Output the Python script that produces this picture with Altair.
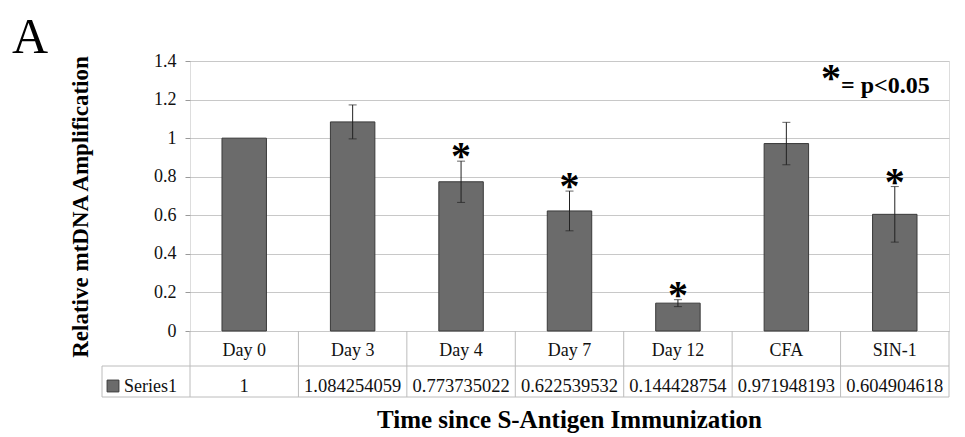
import altair as alt
import pandas as pd

categories = ["Day 0", "Day 3", "Day 4", "Day 7", "Day 12", "CFA", "SIN-1"]
values = [1, 1.084254059, 0.773735022, 0.622539532, 0.144428754, 0.971948193, 0.604904618]
value_labels = ["1", "1.084254059", "0.773735022", "0.622539532", "0.144428754", "0.971948193", "0.604904618"]
errors = [0, 0.088, 0.107, 0.103, 0.018, 0.110, 0.144]
significant = [False, False, True, True, True, False, True]
series_name = ["Series1"]
y_title = ["Relative mtDNA Amplification"]
x_title = ["Time since S-Antigen Immunization"]
panel_label = ["A"]
star = "*"
legend_text = ["= p<0.05"]
y_ticks = [0, 0.2, 0.4, 0.6, 0.8, 1.0, 1.2, 1.4]

df = pd.DataFrame({"cat": categories, "val": values, "label": value_labels,
                   "err": errors, "sig": significant})
df["lo"] = df["val"] - df["err"]
df["hi"] = df["val"] + df["err"]
err_df = df[df["err"] > 0]
sig_df = df[df["sig"]]
one = pd.DataFrame({"k": [0]})

W, H = 759, 270
FONT = "Liberation Serif"
BAR = "#6b6b6b"
LINE = "#bcbcbc"

xs = alt.Scale(paddingInner=0, paddingOuter=0)
X = alt.X("cat:N", sort=categories, scale=xs, axis=None)
ys = alt.Scale(domain=[0, 1.4])
yaxis = alt.Axis(values=y_ticks, format="~g", title=None, tickSize=5, labelPadding=9,
                 domain=False, labelFont=FONT, labelFontSize=18, labelColor="#111",
                 gridColor="#c8c8c8", tickColor="#999", labelOverlap=False)


def Yq(field):
    return alt.Y(field, type="quantitative", scale=ys, axis=yaxis)


bars = alt.Chart(df).mark_bar(color=BAR, stroke="#3a3a3a", strokeWidth=1,
                              width=alt.RelativeBandSize(0.41)).encode(x=X, y=Yq("val"))

ebar = alt.Chart(err_df).mark_rule(color="#222", strokeWidth=1).encode(
    x=X, y=Yq("lo"), y2="hi:Q")
cap_hi = alt.Chart(err_df).mark_tick(color="#222", thickness=1, size=8).encode(
    x=X, y=Yq("hi"))
cap_lo = alt.Chart(err_df).mark_tick(color="#222", thickness=1, size=8).encode(
    x=X, y=Yq("lo"))

stars = alt.Chart(sig_df).mark_text(text=star, font=FONT, fontWeight="bold", fontSize=40,
                                    baseline="alphabetic", dy=8, color="#000").encode(
    x=X, y=Yq("hi"))

# data table under the plot
vlines = alt.Chart(df).mark_rule(color=LINE, strokeWidth=1).encode(
    x=alt.X("cat:N", sort=categories, scale=xs, axis=None, bandPosition=0),
    y=alt.value(H), y2=alt.value(336))
rline = alt.Chart(one).mark_rule(color=LINE).encode(x=alt.value(W), y=alt.value(H), y2=alt.value(336))
lline = alt.Chart(one).mark_rule(color=LINE).encode(x=alt.value(-88), y=alt.value(305), y2=alt.value(336))
h1 = alt.Chart(one).mark_rule(color=LINE).encode(x=alt.value(-88), x2=alt.value(W), y=alt.value(305))
h2 = alt.Chart(one).mark_rule(color=LINE).encode(x=alt.value(-88), x2=alt.value(W), y=alt.value(336))

cat_txt = alt.Chart(df).mark_text(font=FONT, fontSize=18, baseline="alphabetic", color="#111").encode(
    x=X, y=alt.value(295), text="cat:N")
val_txt = alt.Chart(df).mark_text(font=FONT, fontSize=18.5, baseline="alphabetic", color="#111").encode(
    x=X, y=alt.value(331), text="label:N")

swatch = alt.Chart(one).mark_square(size=140, color=BAR, stroke="#3a3a3a", strokeWidth=1, opacity=1).encode(
    x=alt.value(-77), y=alt.value(325))
series_txt = alt.Chart(pd.DataFrame({"t": series_name})).mark_text(
    font=FONT, fontSize=18, align="left", baseline="alphabetic", color="#111").encode(
    x=alt.value(-66), y=alt.value(331), text="t:N")

ytitle = alt.Chart(pd.DataFrame({"t": y_title})).mark_text(
    font=FONT, fontSize=23, fontWeight="bold", angle=270, align="center", baseline="middle",
    color="#000").encode(x=alt.value(-109), y=alt.value(146), text="t:N")
xtitle = alt.Chart(pd.DataFrame({"t": x_title})).mark_text(
    font=FONT, fontSize=25, fontWeight="bold", align="center", baseline="alphabetic",
    color="#000").encode(x=alt.value(W / 2), y=alt.value(367), text="t:N")
plabel = alt.Chart(pd.DataFrame({"t": panel_label})).mark_text(
    font=FONT, fontSize=50, align="left", baseline="alphabetic", color="#000").encode(
    x=alt.value(-178), y=alt.value(-8), text="t:N")
lstar = alt.Chart(one).mark_text(text=star, font=FONT, fontWeight="bold", fontSize=40,
                                 align="center", baseline="alphabetic", color="#000").encode(
    x=alt.value(641), y=alt.value(30))
ltext = alt.Chart(pd.DataFrame({"t": legend_text})).mark_text(
    font=FONT, fontSize=24, fontWeight="bold", align="left", baseline="alphabetic",
    color="#000").encode(x=alt.value(651), y=alt.value(32), text="t:N")

chart = alt.layer(
    bars, vlines, rline, lline, h1, h2, ebar, cap_hi, cap_lo, stars,
    cat_txt, val_txt, swatch, series_txt, ytitle, xtitle, plabel, lstar, ltext
).properties(
    width=W, height=H,
    autosize=alt.AutoSizeParams(type="none"),
    padding={"left": 182, "top": 53, "right": 8, "bottom": 106},
).configure_view(stroke="#a0a0a0", strokeWidth=1).configure(background="white")

chart.save("out.html", embed_options={"renderer": "svg", "actions": False})
